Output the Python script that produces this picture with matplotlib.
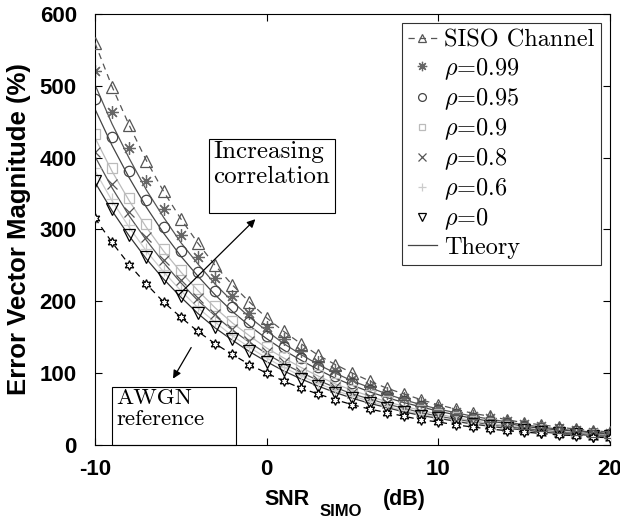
import matplotlib
matplotlib.use('Agg')
import matplotlib.pyplot as plt
from matplotlib.patches import Rectangle

plt.rcParams['font.family'] = ['Liberation Sans', 'DejaVu Sans']
plt.rcParams['mathtext.fontset'] = 'custom'
plt.rcParams['mathtext.rm'] = 'cmr10'
plt.rcParams['mathtext.it'] = 'cmmi10'
plt.rcParams['mathtext.bf'] = 'Liberation Sans:bold'
plt.rcParams['axes.unicode_minus'] = False

snr_db = list(range(-10, 21))

siso = [560, 499, 445, 396, 353, 315, 281, 250, 223, 199, 177, 158, 141, 125, 112, 100,
        89, 79, 71, 63, 56, 50, 44, 40, 35, 31, 28, 25, 22, 20, 18]
rho_099 = [520, 463, 413, 368, 328, 292, 261, 232, 207, 184, 164, 147, 131, 116, 104, 92,
           82, 73, 65, 58, 52, 46, 41, 37, 33, 29, 26, 23, 21, 18, 16]
rho_095 = [481, 429, 382, 341, 304, 270, 241, 215, 192, 171, 152, 136, 121, 108, 96, 86,
           76, 68, 61, 54, 48, 43, 38, 34, 30, 27, 24, 22, 19, 17, 15]
rho_09 = [433, 386, 344, 307, 273, 243, 217, 193, 172, 154, 137, 122, 109, 97, 86, 77,
          69, 61, 55, 49, 43, 39, 34, 31, 27, 24, 22, 19, 17, 15, 14]
rho_08 = [408, 364, 324, 289, 257, 229, 204, 182, 162, 145, 129, 115, 102, 91, 81, 73,
          65, 58, 51, 46, 41, 36, 32, 29, 26, 23, 20, 18, 16, 14, 13]
rho_06 = [385, 343, 306, 273, 243, 216, 193, 172, 153, 137, 122, 108, 97, 86, 77, 68,
          61, 54, 48, 43, 38, 34, 31, 27, 24, 22, 19, 17, 15, 14, 12]
rho_0 = [368, 328, 292, 261, 232, 207, 184, 164, 147, 131, 116, 104, 92, 82, 73, 65,
         58, 52, 46, 41, 37, 33, 29, 26, 23, 21, 18, 16, 15, 13, 12]
awgn = [316, 282, 251, 224, 199, 178, 158, 141, 126, 112, 100, 89, 79, 71, 63, 56,
        50, 45, 40, 35, 32, 28, 25, 22, 20, 18, 16, 14, 13, 11, 10]

# theory curves (solid lines)
th_099 = [502, 447, 399, 355, 317, 282, 252, 224, 200, 178, 159, 141, 126, 112, 100, 89,
          80, 71, 63, 56, 50, 45, 40, 36, 32, 28, 25, 22, 20, 18, 16]
th_095 = [468, 417, 372, 331, 295, 263, 235, 209, 186, 166, 148, 132, 118, 105, 93, 83,
          74, 66, 59, 53, 47, 42, 37, 33, 30, 26, 23, 21, 19, 17, 15]
th_09 = [428, 381, 340, 303, 270, 241, 215, 191, 170, 152, 135, 121, 108, 96, 85, 76,
         68, 60, 54, 48, 43, 38, 34, 30, 27, 24, 21, 19, 17, 15, 14]
th_08 = [402, 358, 319, 285, 254, 226, 201, 180, 160, 143, 127, 113, 101, 90, 80, 71,
         64, 57, 51, 45, 40, 36, 32, 28, 25, 23, 20, 18, 16, 14, 13]
th_06 = [382, 340, 303, 270, 241, 215, 191, 171, 152, 136, 121, 108, 96, 86, 76, 68,
         61, 54, 48, 43, 38, 34, 30, 27, 24, 21, 19, 17, 15, 14, 12]
th_0 = [366, 326, 291, 259, 231, 206, 183, 163, 146, 130, 116, 103, 92, 82, 73, 65,
        58, 52, 46, 41, 37, 33, 29, 26, 23, 21, 18, 16, 15, 13, 12]

fig = plt.figure(figsize=(6.2, 5.18), dpi=100)
ax = fig.add_axes([0.153, 0.141, 0.831, 0.832])

# theory lines
theory = [(th_099, '#555555'), (th_095, '#444444'), (th_09, '#bbbbbb'),
          (th_08, '#555555'), (th_06, '#cccccc'), (th_0, '#333333')]
for vals, c in theory:
    ax.plot(snr_db, vals, '-', color=c, lw=0.9, zorder=2)

ax.plot(snr_db, awgn, '--', color='black', lw=0.9, marker=(6, 1, 0), ms=7,
        mfc='white', mec='black', mew=0.9, dashes=(5, 4), zorder=3)

ax.plot(snr_db, siso, '--', color='#555555', lw=0.9, marker='^', ms=8.5, mfc='none',
        mec='#555555', mew=0.9, dashes=(5, 4), label='SISO Channel', zorder=3)
ax.plot(snr_db, rho_099, ls='none', marker=(8, 2, 0), ms=9, mec='#666666', mew=0.9,
        label=r'$\rho$=0.99')
ax.plot(snr_db, rho_095, ls='none', marker='o', ms=7.5, mfc='none', mec='#444444', mew=0.9,
        label=r'$\rho$=0.95')
ax.plot(snr_db, rho_09, ls='none', marker='s', ms=6.5, mfc='none', mec='#bbbbbb', mew=0.9,
        label=r'$\rho$=0.9')
ax.plot(snr_db, rho_08, ls='none', marker='x', ms=7, mec='#555555', mew=0.9,
        label=r'$\rho$=0.8')
ax.plot(snr_db, rho_06, ls='none', marker='+', ms=8, mec='#cccccc', mew=0.9,
        label=r'$\rho$=0.6')
ax.plot(snr_db, rho_0, ls='none', marker='v', ms=8.5, mfc='none', mec='black', mew=0.9,
        label=r'$\rho$=0')
ax.plot([], [], '-', color='#444444', lw=0.9, label='Theory')

ax.set_xlim(-10, 20)
ax.set_ylim(0, 600)
ax.set_xticks([-10, 0, 10, 20])
ax.set_yticks(range(0, 601, 100))
ax.tick_params(direction='in', top=True, right=True, length=5, width=0.8, labelsize=16)
ax.tick_params(axis='x', pad=10)
ax.tick_params(axis='y', pad=13)
for lab in ax.get_xticklabels() + ax.get_yticklabels():
    lab.set_fontweight('bold')
for s in ax.spines.values():
    s.set_linewidth(0.8)

# x label drawn in pieces so the subscript sits low like the original
fig.text(0.427, 0.025, 'SNR', fontsize=15.5, fontweight='bold', va='baseline')
fig.text(0.516, 0.003, 'SIMO', fontsize=12, fontweight='bold', va='baseline')
fig.text(0.618, 0.025, '(dB)', fontsize=15.5, fontweight='bold', va='baseline')
ax.set_ylabel('Error Vector Magnitude (%)', fontsize=18.5, fontweight='bold', labelpad=6)

leg = ax.legend(loc='upper right', bbox_to_anchor=(0.982, 0.978),
                prop={'family': 'cmr10', 'size': 17.5},
                frameon=True, fancybox=False, edgecolor='black', handlelength=1.2,
                handletextpad=0.3, borderpad=0.25, labelspacing=0.18, borderaxespad=0,
                markerscale=0.75)
leg.get_frame().set_linewidth(0.8)

# annotation boxes
ax.add_patch(Rectangle((-3.33, 323), 7.31, 103, fill=False, ec='black', lw=0.8, zorder=5))
ax.text(-3.1, 423, 'Increasing\ncorrelation', family='cmr10',
        fontsize=18, va='top', ha='left', linespacing=1.15, zorder=6)
ax.annotate('', xy=(-0.54, 317), xytext=(-5.24, 206),
            arrowprops=dict(arrowstyle='-|>', color='black', lw=0.9, mutation_scale=12))

ax.add_patch(Rectangle((-9.01, 0), 7.25, 81, fill=False, ec='black', lw=0.8, zorder=5,
                       clip_on=False))
ax.text(-8.75, 79, 'AWGN\nreference', family='cmr10',
        fontsize=16.5, va='top', ha='left', linespacing=1.1, zorder=6)
ax.annotate('', xy=(-5.53, 89), xytext=(-4.31, 139),
            arrowprops=dict(arrowstyle='-|>', color='black', lw=0.9, mutation_scale=12))

fig.savefig('out.png', dpi=100)
